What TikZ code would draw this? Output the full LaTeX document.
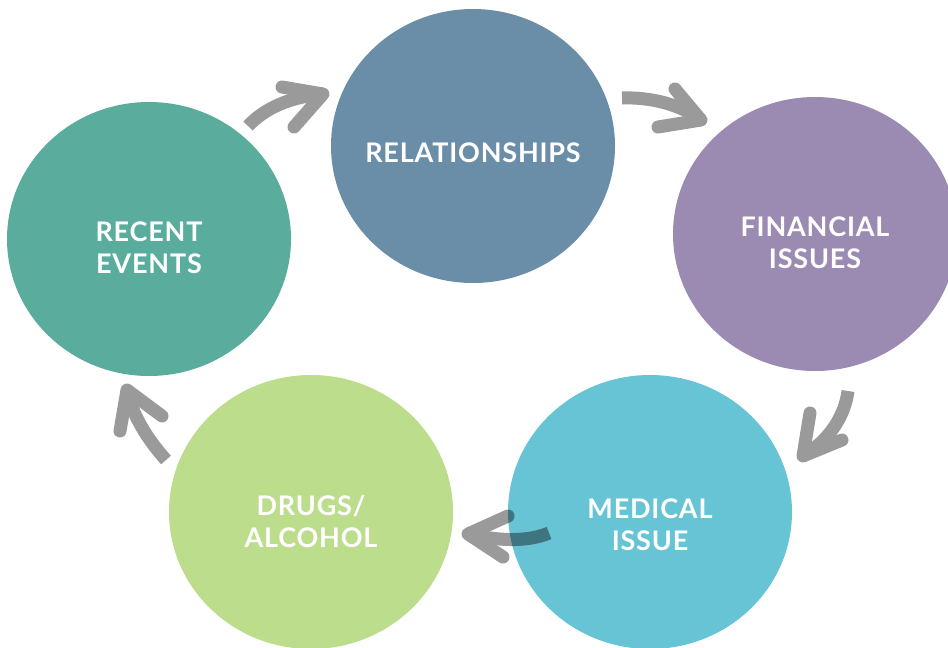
\documentclass[tikz,border=0pt]{standalone}
\usepackage{fontspec}
\setmainfont{Lato}
\usetikzlibrary{shapes.geometric}
\definecolor{relc}{HTML}{6A8DA8}
\definecolor{finc}{HTML}{9B8AB2}
\definecolor{medc}{HTML}{66C4D5}
\definecolor{drgc}{HTML}{BCDD8C}
\definecolor{recc}{HTML}{5AAC9C}
\definecolor{arrc}{HTML}{9A9A9A}
\definecolor{ovlc}{HTML}{3D7580}
\begin{document}
\begin{tikzpicture}[x=1pt,y=-1pt,
  blob/.style={ellipse,draw=none,minimum width=284pt,minimum height=274pt,inner sep=0pt},
  lbl/.style={text=white,font=\bfseries\fontsize{27}{32}\selectfont\addfontfeatures{LetterSpace=3},align=center},
  shaft/.style={draw=#1,line width=13pt,line cap=butt},
  head/.style={draw=#1,line width=13pt,line cap=round,line join=round}]
\useasboundingbox (0,0) rectangle (948,648);
% circles
\node[blob,fill=relc] (rel) at (473,146) {};
\node[blob,fill=finc] (fin) at (815,234) {};
\node[blob,fill=medc] (med) at (650,512) {};
\node[blob,fill=drgc] (drg) at (311,512) {};
\node[blob,fill=recc] (rec) at (149,239) {};
% labels
\node[lbl] (relt) at ([yshift=-7pt]rel.center) {RELATIONSHIPS};
\node[lbl] (fint) at ([yshift=-9pt]fin.center) {FINANCIAL\\ISSUES};
\node[lbl] (medt) at ([yshift=-13pt]med.center) {MEDICAL\\ISSUE};
\node[lbl] (drgt) at ([yshift=-10pt]drg.center) {DRUGS/\\ALCOHOL};
\node[lbl] (rect) at ([yshift=-9pt]rec.center) {RECENT\\EVENTS};
% arrow end points
\coordinate (a1s) at (248,126); \coordinate (a1t) at (323,94);
\coordinate (a1u) at (282,87);  \coordinate (a1l) at (294,127);
\coordinate (a2s) at (622,98);  \coordinate (a2t) at (701,120);
\coordinate (a2u) at (675,89);  \coordinate (a2l) at (658,127);
\coordinate (a3s) at (848,391); \coordinate (a3t) at (803,456);
\coordinate (a3u) at (810,413); \coordinate (a3l) at (842,440);
\coordinate (a4s) at (549,533); \coordinate (a4t) at (468,534);
\coordinate (a4u) at (508,516); \coordinate (a4l) at (503,557);
\coordinate (a5s) at (166,460); \coordinate (a5t) at (127,390);
\coordinate (a5u) at (120,431); \coordinate (a5l) at (162,416);
% arrows
\draw[shaft=arrc] (a1s) .. controls (265,108) and (290,97) .. (a1t);
\draw[head=arrc] (a1u) -- (a1t) -- (a1l);
\draw[shaft=arrc] (a2s) .. controls (650,97) and (680,104) .. (a2t);
\draw[head=arrc] (a2u) -- (a2t) -- (a2l);
\draw[shaft=arrc] (a3s) .. controls (845,415) and (830,440) .. (a3t);
\draw[head=arrc] (a3u) -- (a3t) -- (a3l);
\draw[shaft=arrc] (a4s) .. controls (525,543) and (495,540) .. (a4t);
\draw[head=arrc] (a4u) -- (a4t) -- (a4l);
\draw[shaft=arrc] (a5s) .. controls (148,440) and (132,415) .. (a5t);
\draw[head=arrc] (a5u) -- (a5t) -- (a5l);
% darker where the arrow lies over the medical circle
\begin{scope}
  \clip (med.center) ellipse [x radius=142, y radius=137];
  \draw[shaft=ovlc] (a4s) .. controls (525,543) and (495,540) .. (a4t);
  \draw[head=ovlc] (a4u) -- (a4t) -- (a4l);
\end{scope}
\end{tikzpicture}
\end{document}
